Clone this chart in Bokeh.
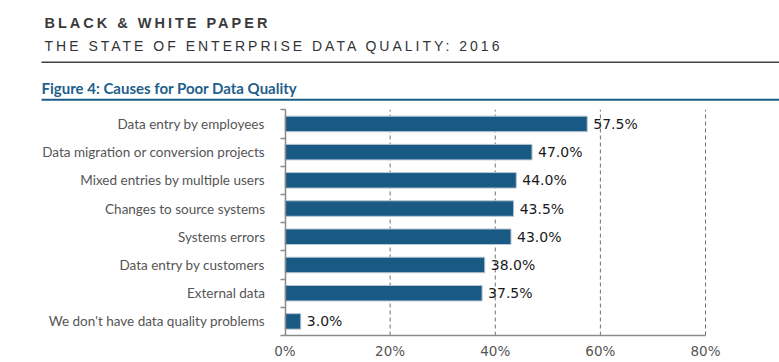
from bokeh.plotting import figure
from bokeh.models import (Range1d, FixedTicker, Label, BoxAnnotation,
                          ColumnDataSource, InlineStyleSheet)
from bokeh.layouts import column
from bokeh.core.properties import value
from bokeh.embed import file_html
from bokeh.resources import INLINE

# ---- data ----
categories = [
    "Data entry by employees",
    "Data migration or conversion projects",
    "Mixed entries by multiple users",
    "Changes to source systems",
    "Systems errors",
    "Data entry by customers",
    "External data",
    "We don't have data quality problems",
]
percentages = [57.5, 47.0, 44.0, 43.5, 43.0, 38.0, 37.5, 3.0]
x_ticks = [0, 20, 40, 60, 80]
x_tick_labels = ["0%", "20%", "40%", "60%", "80%"]

header_line1 = "BLACK & WHITE PAPER"
header_line2 = "THE STATE OF ENTERPRISE DATA QUALITY: 2016"
figure_title = "Figure 4: Causes for Poor Data Quality"

BLUE = "#195a85"
TEXT_BLUE = "#1f5f8b"
GREY = "#8a8a8a"
LBL_SHIFT = 5.5   # label baseline correction (px)

W = 779
H1 = 66           # header strip height
H2 = 362 - H1     # chart figure height

# ---------------- header strip (letter-spaced caps) ----------------
hdr = figure(width=W, height=H1, output_backend="svg", toolbar_location=None,
             x_range=Range1d(0, 1), y_range=Range1d(0, 1),
             min_border_left=0, min_border_right=0, min_border_top=0,
             min_border_bottom=0, x_axis_type=None, y_axis_type=None)
hdr.outline_line_color = None
hdr.xgrid.visible = False
hdr.ygrid.visible = False
hdr.stylesheets = [InlineStyleSheet(css=":host { letter-spacing: 3px; }")]

hdr.add_layout(Label(x=44, y=H1 - 28 + LBL_SHIFT, x_units="screen",
                     y_units="screen", text=header_line1,
                     text_font="Liberation Sans", text_font_style="bold",
                     text_font_size="14.5px", text_color="#3a3a3c",
                     text_baseline="alphabetic"))
hdr.add_layout(Label(x=44, y=H1 - 51 + LBL_SHIFT, x_units="screen",
                     y_units="screen", text=header_line2,
                     text_font="Liberation Sans", text_font_size="14px",
                     text_color="#333336", text_baseline="alphabetic"))
hdr.add_layout(BoxAnnotation(left=41, right=W, bottom=H1 - 62.5, top=H1 - 61,
                             left_units="screen", right_units="screen",
                             bottom_units="screen", top_units="screen",
                             fill_color="#3d4148", fill_alpha=1,
                             line_color=None))

# ---------------- chart ----------------
n = len(categories)
ys = [n - i - 0.5 for i in range(n)]
src = ColumnDataSource(dict(
    y=ys, v=percentages, lbl=[f"{p:.1f}%" for p in percentages]))
grid_src = ColumnDataSource(dict(x=x_ticks[1:],
                                 y0=[0] * (len(x_ticks) - 1),
                                 y1=[n] * (len(x_ticks) - 1)))

# plot area in page px: x 0 -> 284.5, 80 -> 705 ; y 0 -> 335, 8 -> 109.3
top_px, bot_px = 109.3 - H1, 335 - H1
xppu = (705 - 284.5) / x_ticks[-1]
yppu = (bot_px - top_px) / n
p = figure(width=W, height=H2, output_backend="svg", toolbar_location=None,
           x_range=Range1d(-284.5 / xppu, (W - 284.5) / xppu),
           y_range=Range1d(-(H2 - bot_px) / yppu, n + top_px / yppu),
           min_border_left=0, min_border_right=0, min_border_top=0,
           min_border_bottom=0)
p.outline_line_color = None
p.xgrid.visible = False
p.ygrid.visible = False

p.add_layout(Label(x=41, y=H2 - (93 - H1) + LBL_SHIFT, x_units="screen",
                   y_units="screen", text=figure_title, text_font="Lato",
                   text_font_style="bold", text_font_size="15px",
                   text_color=TEXT_BLUE, text_baseline="alphabetic"))
p.add_layout(BoxAnnotation(left=41, right=W, bottom=H2 - (100.3 - H1),
                           top=H2 - (98.3 - H1),
                           left_units="screen", right_units="screen",
                           bottom_units="screen", top_units="screen",
                           fill_color="#1a5e8a", fill_alpha=1,
                           line_color=None))

# dashed vertical grid lines, limited to the plot area
p.segment(x0="x", x1="x", y0="y0", y1="y1", source=grid_src,
          line_color="#707070", line_dash="4 3", line_width=1)

# bars + value labels
p.hbar(y="y", right="v", left=0, height=0.55, source=src,
       fill_color=BLUE, line_color="#b9c6d2", line_width=1)
p.text(x="v", y="y", text="lbl", source=src, x_offset=6,
       text_baseline="middle", text_align="left",
       text_font=value("DejaVu Sans"), text_font_size="14px",
       text_color="#1a1a1a")

# x axis
xa = p.xaxis[0]
xa.fixed_location = 0
xa.bounds = (x_ticks[0], x_ticks[-1])
xa.ticker = FixedTicker(ticks=x_ticks)
xa.major_label_overrides = {t: l for t, l in zip(x_ticks, x_tick_labels)}
xa.major_tick_out = 0
xa.major_tick_in = 0
xa.minor_tick_out = 0
xa.minor_tick_in = 0
xa.axis_line_color = GREY
xa.axis_line_width = 1.5
xa.major_label_text_font = "DejaVu Sans"
xa.major_label_text_font_size = "13.5px"
xa.major_label_text_color = "#555555"
xa.major_label_standoff = 7

# y axis
ya = p.yaxis[0]
ya.fixed_location = 0
ya.bounds = (0, n)
ya.ticker = FixedTicker(ticks=ys, minor_ticks=list(range(n + 1)))
ya.major_label_overrides = {y: c for y, c in zip(ys, categories)}
ya.major_tick_out = 0
ya.major_tick_in = 0
ya.minor_tick_out = 5
ya.minor_tick_in = 0
ya.minor_tick_line_color = GREY
ya.minor_tick_line_width = 1.5
ya.axis_line_color = GREY
ya.axis_line_width = 1.5
ya.major_label_text_font = "Lato"
ya.major_label_text_font_size = "13.5px"
ya.major_label_text_color = "#555555"
ya.major_label_standoff = 15

layout = column(hdr, p, spacing=0)
open("out.html", "w").write(file_html(layout, INLINE))
